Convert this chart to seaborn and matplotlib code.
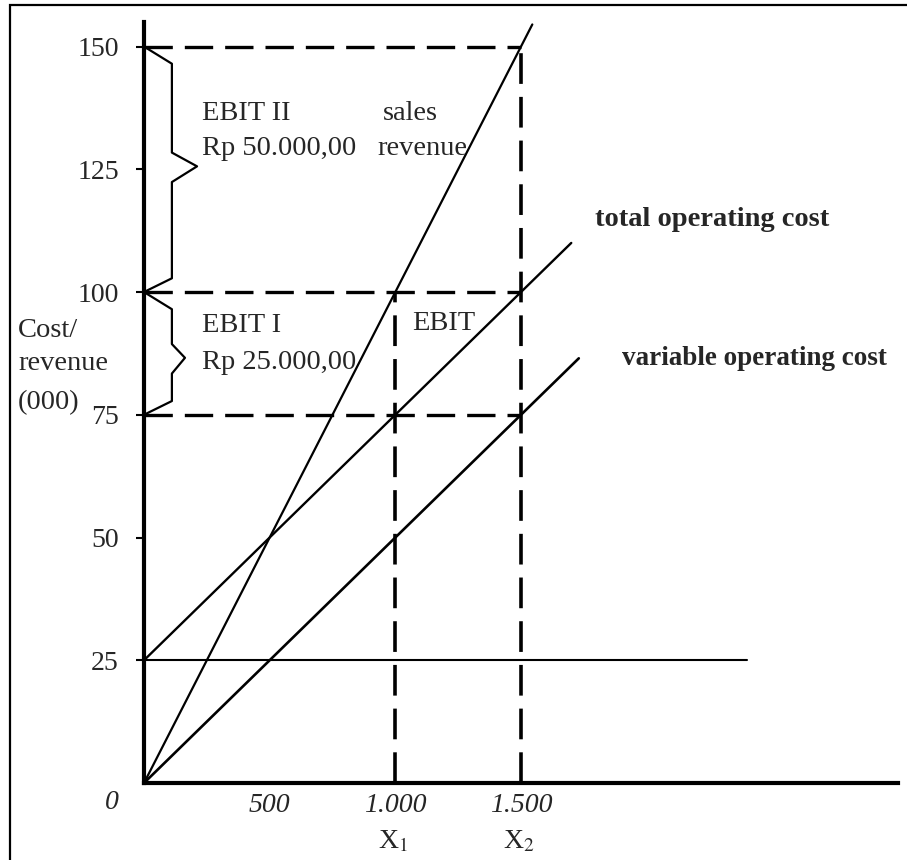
import matplotlib
matplotlib.use("Agg")
import matplotlib.pyplot as plt
from matplotlib.patches import Rectangle
import seaborn as sns

# axis ticks
x_ticks = [500, 1000, 1500]
x_tick_labels = ['500', '1.000', '1.500']
y_ticks = [25, 50, 75, 100, 125, 150]

# lines (units sold vs Rp 000)
sales_units = [0, 1545]
sales_revenue = [0, 154.5]
total_cost_units = [0, 1700]
total_cost = [25, 110]
variable_cost_units = [0, 1730]
variable_cost = [0, 86.5]
fixed_cost_units = [0, 2400]
fixed_cost = [25, 25]

# sales levels X1, X2 and the guide levels
x1, x2 = 1000, 1500
guide_levels = [150, 100, 75]

sns.set_style("white")
plt.rcParams['font.family'] = ['Liberation Serif', 'DejaVu Serif']
plt.rcParams['mathtext.fontset'] = 'stix'

fig = plt.figure(figsize=(9.07, 8.6), dpi=100)
ax = fig.add_axes([144 / 907, 77 / 860, 754 / 907, 761 / 860])

#solid lines
sns.lineplot(x=sales_units, y=sales_revenue, color='black', lw=1.6, ax=ax, clip_on=False)
sns.lineplot(x=total_cost_units, y=total_cost, color='black', lw=1.7, ax=ax)
sns.lineplot(x=variable_cost_units, y=variable_cost, color='black', lw=1.9, ax=ax)
sns.lineplot(x=fixed_cost_units, y=fixed_cost, color='black', lw=1.5, ax=ax)

#dashed guides
dash = (0, (8.5, 3.6))
for lvl in guide_levels:
    sns.lineplot(x=[0, x2], y=[lvl, lvl], color='black', lw=2.4, linestyle=dash, ax=ax)
sns.lineplot(x=[x1, x1], y=[0, guide_levels[1]], color='black', lw=2.6, linestyle=dash, ax=ax, orient='y')
sns.lineplot(x=[x2, x2], y=[0, guide_levels[0]], color='black', lw=2.6, linestyle=dash, ax=ax, orient='y')


def brace(top, bottom, body, tip, tip_y):
    # curly brace drawn right of the y axis
    xs = [0, body, body, tip, body, body, 0]
    ys = [top, top - 3.5, tip_y + 2.8, tip_y, tip_y - 3.2, bottom + 2.8, bottom]
    ax.plot(xs, ys, color='black', lw=1.6, clip_on=False)


brace(150, 100, 111, 211, 125.6)
brace(100, 75, 111, 163, 86.6)

ax.set_xlim(0, 3000)
ax.set_ylim(0, 155)
ax.set_xticks(x_ticks)
ax.set_xticklabels(x_tick_labels, fontsize=20, style='italic')
ax.set_yticks(y_ticks)
ax.set_yticklabels([str(v) for v in y_ticks], fontsize=20)
ax.tick_params(axis='y', length=6, width=1.5, pad=12, left=True, color='black')
ax.tick_params(axis='x', length=0, pad=7)
sns.despine(ax=ax)
for side in ['left', 'bottom']:
    ax.spines[side].set_linewidth(3)
    ax.spines[side].set_color('black')

fs = 20.5
ax.text(231, 136.4, 'EBIT II', fontsize=fs, va='center')
ax.text(231, 129.3, 'Rp 50.000,00', fontsize=fs, va='center')
ax.text(951, 136.4, 'sales', fontsize=fs, va='center')
ax.text(927, 129.3, 'revenue', fontsize=fs, va='center')
ax.text(231, 93.1, 'EBIT I', fontsize=fs, va='center')
ax.text(231, 85.6, 'Rp 25.000,00', fontsize=fs, va='center')
ax.text(1066, 93.5, 'EBIT', fontsize=fs, va='center')
ax.text(1795, 114.8, 'total operating cost', fontsize=20.5, fontweight='bold', va='center')
ax.text(1902, 86.4, 'variable operating cost', fontsize=19.5, fontweight='bold', va='center')

ax.text(-501, 92.1, 'Cost/', fontsize=fs, va='center', clip_on=False)
ax.text(-501, 85.4, 'revenue', fontsize=fs, va='center', clip_on=False)
ax.text(-501, 77.4, '(000)', fontsize=fs, va='center', clip_on=False)
ax.text(-127, -3.9, '0', fontsize=20, style='italic', ha='center', va='center', clip_on=False)
ax.text(x1 - 10, -12.0, r'X$_{1}$', fontsize=20, ha='center', va='center', clip_on=False)
ax.text(x2 - 10, -12.0, r'X$_{2}$', fontsize=20, ha='center', va='center', clip_on=False)

# outer frame (left and top edges visible)
fig.patches.append(Rectangle((10 / 907, -0.1), 1.2, 1.0 + 0.1 - 5 / 860, transform=fig.transFigure,
                             fill=False, edgecolor='black', lw=1.6))

fig.savefig('out.png', dpi=100)
